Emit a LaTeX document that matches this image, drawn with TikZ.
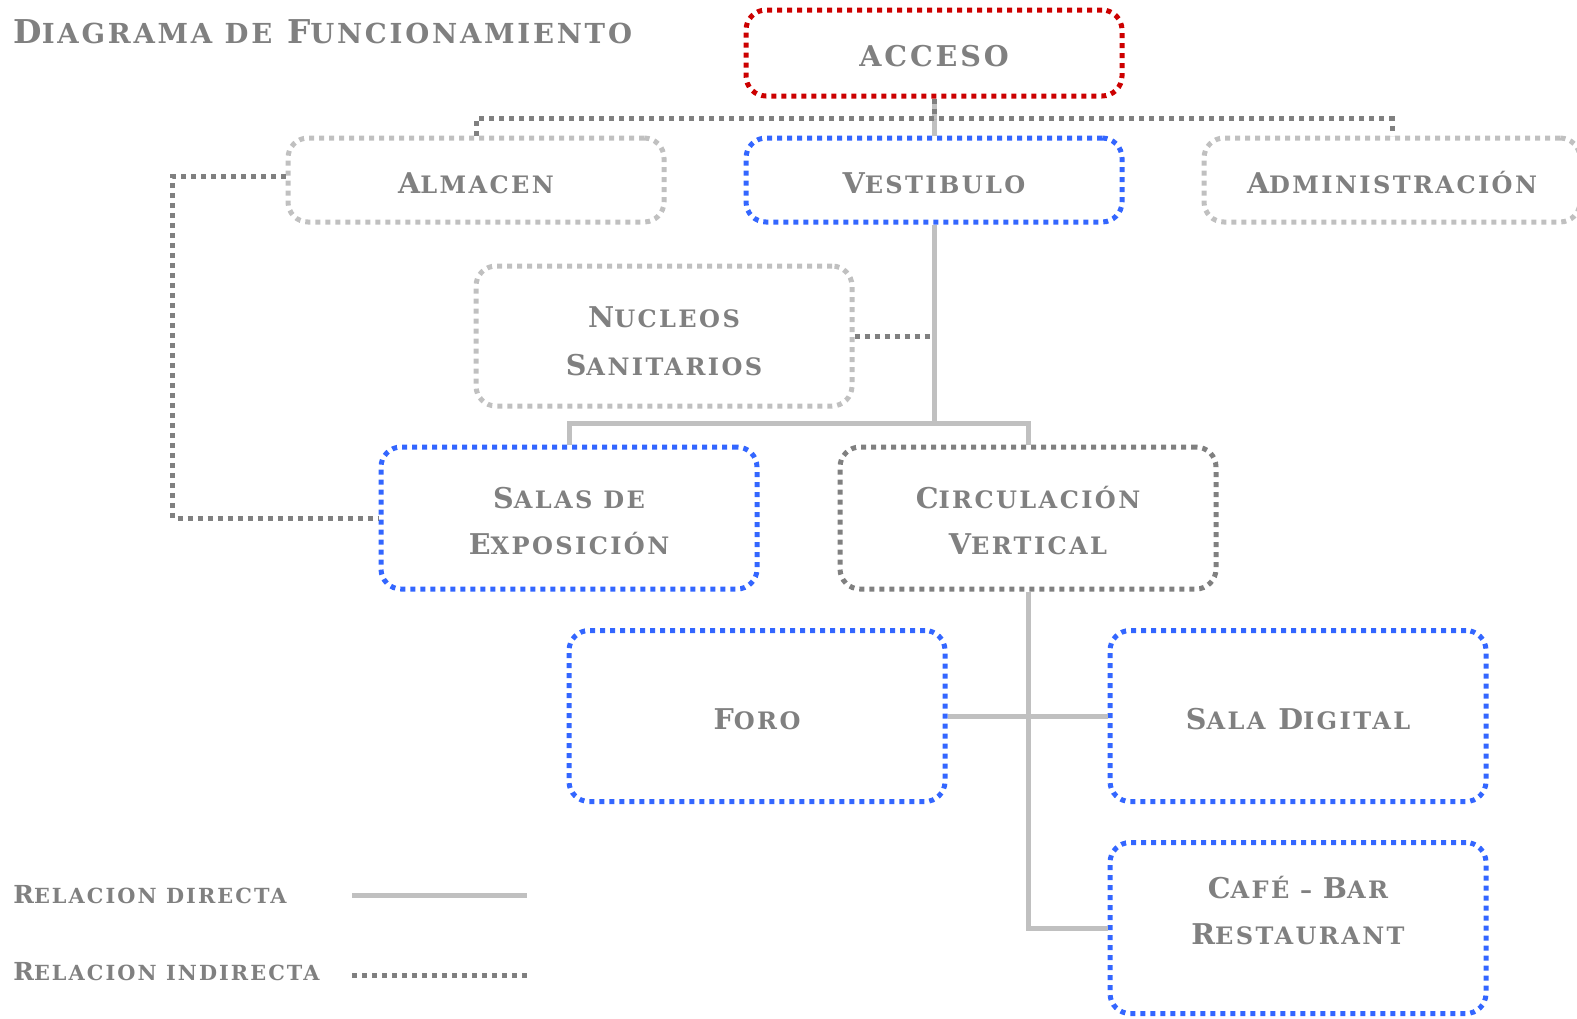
\documentclass[tikz,border=0pt]{standalone}
\usepackage{fontspec}
\setmainfont{DejaVu Serif}[LetterSpace=10, UprightFont=*-Bold]
\usepackage{xcolor}
\usetikzlibrary{positioning}

\definecolor{txtgray}{RGB}{128,128,128}
\definecolor{linegray}{RGB}{192,192,192}
\definecolor{dotgray}{RGB}{128,128,128}
\definecolor{boxblue}{RGB}{51,102,255}
\definecolor{boxred}{RGB}{204,0,0}
\definecolor{boxlight}{RGB}{192,192,192}

\makeatletter
\newcommand\smc[1]{{\fontsize{\fpeval{0.84*\f@size}}{\f@baselineskip}\selectfont #1}}
\makeatother
\newcommand\lift[1]{\rule{0pt}{#1}}

\tikzset{
  dotline/.style={line width=2.5pt, dash pattern=on 2.5pt off 2.5pt},
  room/.style={draw=boxblue, dotline, rounded corners=10pt, align=center,
    text=txtgray, inner sep=0pt, minimum width=188pt,
    font=\fontsize{14.3}{23}\selectfont},
  direct/.style={draw=linegray, line width=2.5pt},
  indirect/.style={draw=dotgray, dotline},
  legend/.style={anchor=west, text=txtgray, inner sep=0pt, font=\fontsize{12.4}{14}\selectfont},
}

\begin{document}
\begin{tikzpicture}[x=0.5pt, y=-0.5pt]
\useasboundingbox (0,0) rectangle (1577,1018);
% title
\node[anchor=west, text=txtgray, inner sep=0pt, font=\fontsize{16.4}{20}\selectfont] (title) at (13,32)
  {D\smc{IAGRAMA DE} F\smc{UNCIONAMIENTO}};

% boxes
\node[room, draw=boxred, minimum height=43pt] (acceso) at (934,53) {\lift{14pt}ACCESO};
\node[room, draw=boxlight, minimum height=42pt] (almacen) at (476,180) {\lift{14pt}A\smc{LMACEN}};
\node[room, minimum height=42pt] (vest) at (934,180) {\lift{14pt}V\smc{ESTIBULO}};
\node[room, draw=boxlight, minimum height=42pt] (admin) at (1392,180) {\lift{14pt}A\smc{DMINISTRACIÓN}};
\node[room, draw=boxlight, minimum height=70pt, font=\fontsize{14.3}{24}\selectfont] (nucleos) at (664,336)
  {\lift{16pt}N\smc{UCLEOS}\\S\smc{ANITARIOS}};
\node[room, minimum height=71pt] (salas) at (569,518) {\lift{14pt}S\smc{ALAS DE}\\E\smc{XPOSICIÓN}};
\node[room, draw=dotgray, minimum height=71pt] (circ) at (1028,518) {\lift{14pt}C\smc{IRCULACIÓN}\\V\smc{ERTICAL}};
\node[room, minimum height=85.5pt] (foro) at (757,716) {\lift{14pt}F\smc{ORO}};
\node[room, minimum height=85.5pt] (digital) at (1298,716) {\lift{14pt}S\smc{ALA} D\smc{IGITAL}};
\node[room, minimum height=85.5pt] (cafe) at (1298,928) {};
\node[align=center, text=txtgray, font=\fontsize{14.3}{23}\selectfont] (cafetxt) at (1298,911)
  {C\smc{AFÉ – }B\smc{AR}\\R\smc{ESTAURANT}};

% direct relations
\draw[direct] (acceso) -- (vest);
\draw[direct] (vest.south) -- ++(0,199) coordinate (vj);
\draw[direct] (salas.north) |- (vj) -| (circ.north);
\draw[direct] (circ.south) -- (circ.south |- cafe.west) -- (cafe.west);
\draw[direct] (foro.east) -- (digital.west);

% indirect relations
\draw[indirect] (acceso.south) -- ++(0,20) coordinate (aj);
\draw[indirect] (almacen.north) |- (aj) -| (admin.north);
\draw[indirect] ([yshift=2pt]almacen.west) -- ++(-113,0) |- (salas.west);
\draw[indirect] (nucleos.east) -- (nucleos.east -| vest.south);

% legend
\node[legend] (ldir) at (13,895) {R\smc{ELACION DIRECTA}};
\node[legend] (lind) at (13,972) {R\smc{ELACION INDIRECTA}};
\coordinate (dirA) at (352,895);
\coordinate (dirB) at (527,895);
\coordinate (indA) at (352,975);
\coordinate (indB) at (527,975);
\draw[direct] (dirA) -- (dirB);
\draw[indirect] (indA) -- (indB);
\end{tikzpicture}
\end{document}
